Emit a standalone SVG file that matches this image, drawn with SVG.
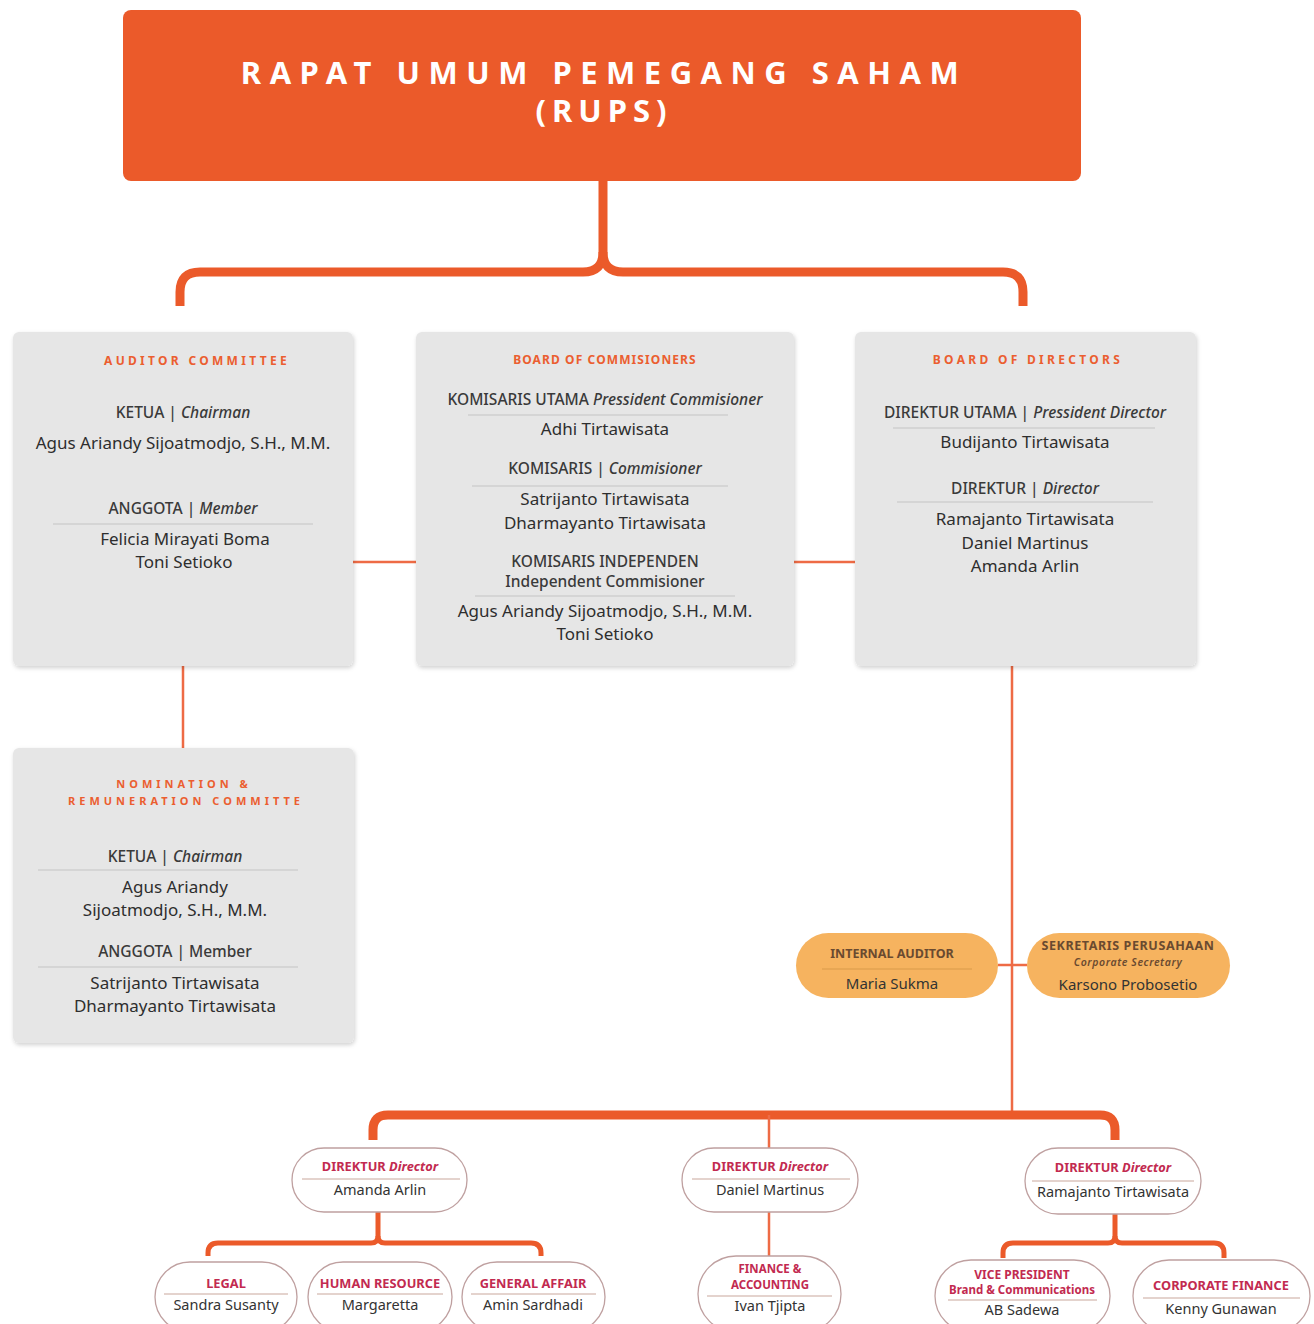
<svg xmlns="http://www.w3.org/2000/svg" width="1314" height="1324" viewBox="0 0 1314 1324">
<defs>
<filter id="sh" x="-5%" y="-5%" width="110%" height="110%">
<feDropShadow dx="1" dy="2" stdDeviation="2" flood-color="#000" flood-opacity="0.18"/>
</filter>
<style>
.t{font-family:"Noto Sans","Open Sans","Liberation Sans",sans-serif;text-anchor:middle}
.hd{font-size:12px;font-weight:700;fill:#EB5E30;letter-spacing:3.3px}
.hd2{font-size:12px;font-weight:700;fill:#EB5E30;letter-spacing:1.1px}
.ro{font-size:15.5px;font-weight:500;fill:#3a3a3a}
.nm{font-size:17px;fill:#2e2e2e}
.it{font-style:italic}
.box{fill:#E6E6E6;filter:url(#sh)}
.dv{stroke:#C4C4C4;stroke-width:1.2}
.pdv{stroke:#C9A79C;stroke-width:1}
.pill{fill:#fff;stroke:#BFA0A0;stroke-width:1.3}
.opill{fill:#F6B35F}
.pl{font-size:12.8px;font-weight:700;fill:#C22A50}
.pn{font-size:14.5px;fill:#333}
.ol{font-size:12.5px;font-weight:700;fill:#6A4A30}
.thick{fill:none;stroke:#EB5A2A;stroke-width:9;stroke-linecap:butt}
.mid{fill:none;stroke:#EB5A2A;stroke-width:5}
.thin{fill:none;stroke:#EE6B45;stroke-width:2.5}
</style>
</defs>
<rect width="1314" height="1324" fill="#fff"/>

<g id="connectors">
<path class="thick" d="M603,181 V252 Q603,272 583,272 H200 Q180,272 180,292 V306"/>
<path class="thick" d="M603,252 Q603,272 623,272 H1003 Q1023,272 1023,292 V306"/>
<line class="thin" x1="353" y1="562" x2="416" y2="562"/>
<line class="thin" x1="794" y1="562" x2="855" y2="562"/>
<line class="thin" x1="183" y1="666" x2="183" y2="748"/>
<line class="thin" x1="1012" y1="666" x2="1012" y2="1112"/>
<line class="thin" x1="998" y1="965" x2="1027" y2="965"/>
<path class="thick" d="M373,1140 V1130 Q373,1115 388,1115 H1100 Q1115,1115 1115,1130 V1140"/>
<line class="thin" x1="769" y1="1115" x2="769" y2="1148"/>
<line class="thin" x1="769" y1="1212" x2="769" y2="1256"/>
<path class="mid" d="M378,1212 V1236 Q378,1243 371,1243 H218 Q208,1243 208,1253 V1256"/>
<path class="mid" d="M378,1236 Q378,1243 385,1243 H531 Q541,1243 541,1253 V1256"/>
<path class="mid" d="M1115,1214 V1236 Q1115,1243 1108,1243 H1013 Q1003,1243 1003,1253 V1258"/>
<path class="mid" d="M1115,1236 Q1115,1243 1122,1243 H1214 Q1224,1243 1224,1253 V1258"/>
</g>

<g id="rups">
<rect x="123" y="10" width="958" height="171" rx="8" fill="#EB5A2A"/>
<text class="t" x="604" y="84" style="font-size:31px;font-weight:700;fill:#fff;letter-spacing:8.5px">RAPAT UMUM PEMEGANG SAHAM</text>
<text class="t" x="604" y="122" style="font-size:31px;font-weight:700;fill:#fff;letter-spacing:6px">(RUPS)</text>
</g>

<g id="auditor-committee">
<rect class="box" x="13" y="332" width="340" height="334" rx="6"/>
<text class="t hd" x="197" y="365">AUDITOR COMMITTEE</text>
<text class="t ro" x="183" y="418">KETUA | <tspan class="it">Chairman</tspan></text>
<text class="t nm" x="183" y="449">Agus Ariandy Sijoatmodjo, S.H., M.M.</text>
<text class="t ro" x="183" y="514">ANGGOTA | <tspan class="it">Member</tspan></text>
<line class="dv" x1="53" y1="524" x2="313" y2="524"/>
<text class="t nm" x="185" y="545">Felicia Mirayati Boma</text>
<text class="t nm" x="184" y="568">Toni Setioko</text>
</g>

<g id="board-of-commissioners">
<rect class="box" x="416" y="332" width="378" height="334" rx="6"/>
<text class="t hd2" x="605" y="364">BOARD OF COMMISIONERS</text>
<text class="t ro" x="605" y="405">KOMISARIS UTAMA  <tspan class="it">Pressident Commisioner</tspan></text>
<line class="dv" x1="468" y1="415" x2="728" y2="415"/>
<text class="t nm" x="605" y="435">Adhi Tirtawisata</text>
<text class="t ro" x="605" y="474">KOMISARIS | <tspan class="it">Commisioner</tspan></text>
<line class="dv" x1="472" y1="486" x2="728" y2="486"/>
<text class="t nm" x="605" y="505">Satrijanto Tirtawisata</text>
<text class="t nm" x="605" y="529">Dharmayanto Tirtawisata</text>
<text class="t ro" x="605" y="567">KOMISARIS INDEPENDEN</text>
<text class="t ro" x="605" y="587">Independent Commisioner</text>
<line class="dv" x1="475" y1="596" x2="735" y2="596"/>
<text class="t nm" x="605" y="617">Agus Ariandy Sijoatmodjo, S.H., M.M.</text>
<text class="t nm" x="605" y="640">Toni Setioko</text>
</g>

<g id="board-of-directors">
<rect class="box" x="855" y="332" width="341" height="334" rx="6"/>
<text class="t hd" x="1028" y="364">BOARD OF DIRECTORS</text>
<text class="t ro" x="1025" y="418">DIREKTUR UTAMA | <tspan class="it">Pressident Director</tspan></text>
<line class="dv" x1="893" y1="428" x2="1155" y2="428"/>
<text class="t nm" x="1025" y="448">Budijanto Tirtawisata</text>
<text class="t ro" x="1025" y="494">DIREKTUR | <tspan class="it">Director</tspan></text>
<line class="dv" x1="897" y1="502" x2="1153" y2="502"/>
<text class="t nm" x="1025" y="525">Ramajanto Tirtawisata</text>
<text class="t nm" x="1025" y="549">Daniel Martinus</text>
<text class="t nm" x="1025" y="572">Amanda Arlin</text>
</g>

<g id="nomination-committee">
<rect class="box" x="13" y="748" width="341" height="295" rx="6"/>
<text class="t hd" x="184" y="788" style="font-size:11px;letter-spacing:4px">NOMINATION &amp;</text>
<text class="t hd" x="186" y="805" style="font-size:11px;letter-spacing:4px">REMUNERATION COMMITTE</text>
<text class="t ro" x="175" y="862">KETUA | <tspan class="it">Chairman</tspan></text>
<line class="dv" x1="38" y1="870" x2="298" y2="870"/>
<text class="t nm" x="175" y="893">Agus Ariandy</text>
<text class="t nm" x="175" y="916">Sijoatmodjo, S.H., M.M.</text>
<text class="t ro" x="175" y="957">ANGGOTA | Member</text>
<line class="dv" x1="38" y1="967" x2="298" y2="967"/>
<text class="t nm" x="175" y="989">Satrijanto Tirtawisata</text>
<text class="t nm" x="175" y="1012">Dharmayanto Tirtawisata</text>
</g>

<g id="internal-auditor">
<rect class="opill" x="796" y="933" width="202" height="65" rx="32.5"/>
<text class="t ol" x="892" y="958">INTERNAL AUDITOR</text>
<line x1="822" y1="969" x2="972" y2="969" stroke="#D99A4A" stroke-width="1"/>
<text class="t pn" x="892" y="989" style="font-size:15px">Maria Sukma</text>
</g>

<g id="corporate-secretary">
<rect class="opill" x="1027" y="933" width="203" height="65" rx="32.5"/>
<text class="t ol" x="1128" y="950" style="font-size:12.5px;letter-spacing:0.6px">SEKRETARIS PERUSAHAAN</text>
<text class="t it" x="1128" y="966" style="font-size:10.5px;fill:#6A4A30;letter-spacing:0.6px;font-weight:600">Corporate Secretary</text>
<text class="t pn" x="1128" y="990" style="font-size:15px">Karsono Probosetio</text>
</g>

<g id="dir-amanda">
<rect class="pill" x="292" y="1148" width="175" height="64" rx="32"/>
<text class="t pl" x="380" y="1171">DIREKTUR <tspan class="it">Director</tspan></text>
<line class="pdv" x1="302" y1="1179" x2="460" y2="1179"/>
<text class="t pn" x="380" y="1195">Amanda Arlin</text>
</g>

<g id="dir-daniel">
<rect class="pill" x="682" y="1148" width="176" height="64" rx="32"/>
<text class="t pl" x="770" y="1171">DIREKTUR <tspan class="it">Director</tspan></text>
<line class="pdv" x1="692" y1="1179" x2="850" y2="1179"/>
<text class="t pn" x="770" y="1195">Daniel Martinus</text>
</g>

<g id="dir-ramajanto">
<rect class="pill" x="1025" y="1148" width="176" height="66" rx="33"/>
<text class="t pl" x="1113" y="1172">DIREKTUR <tspan class="it">Director</tspan></text>
<line class="pdv" x1="1032" y1="1181" x2="1194" y2="1181"/>
<text class="t pn" x="1113" y="1197">Ramajanto Tirtawisata</text>
</g>

<g id="legal">
<rect class="pill" x="155" y="1262" width="142" height="70" rx="35"/>
<text class="t pl" x="226" y="1288">LEGAL</text>
<line class="pdv" x1="164" y1="1294" x2="288" y2="1294"/>
<text class="t pn" x="226" y="1310">Sandra Susanty</text>
</g>

<g id="human-resource">
<rect class="pill" x="308" y="1262" width="144" height="70" rx="35"/>
<text class="t pl" x="380" y="1288">HUMAN RESOURCE</text>
<line class="pdv" x1="317" y1="1294" x2="443" y2="1294"/>
<text class="t pn" x="380" y="1310">Margaretta</text>
</g>

<g id="general-affair">
<rect class="pill" x="462" y="1262" width="143" height="70" rx="35"/>
<text class="t pl" x="533" y="1288">GENERAL AFFAIR</text>
<line class="pdv" x1="471" y1="1294" x2="596" y2="1294"/>
<text class="t pn" x="533" y="1310">Amin Sardhadi</text>
</g>

<g id="finance-accounting">
<rect class="pill" x="698" y="1256" width="143" height="76" rx="38"/>
<text class="t pl" x="770" y="1273" style="font-size:11.5px">FINANCE &amp;</text>
<text class="t pl" x="770" y="1289" style="font-size:11.5px">ACCOUNTING</text>
<line class="pdv" x1="707" y1="1296" x2="832" y2="1296"/>
<text class="t pn" x="770" y="1311">Ivan Tjipta</text>
</g>

<g id="vp-brand">
<rect class="pill" x="935" y="1260" width="175" height="72" rx="36"/>
<text class="t pl" x="1022" y="1279" style="font-size:12px">VICE PRESIDENT</text>
<text class="t pl" x="1022" y="1294" style="font-size:11.5px">Brand &amp; Communications</text>
<line class="pdv" x1="948" y1="1300" x2="1097" y2="1300"/>
<text class="t pn" x="1022" y="1315">AB Sadewa</text>
</g>

<g id="corporate-finance">
<rect class="pill" x="1133" y="1260" width="177" height="72" rx="36"/>
<text class="t pl" x="1221" y="1290">CORPORATE FINANCE</text>
<line class="pdv" x1="1143" y1="1298" x2="1300" y2="1298"/>
<text class="t pn" x="1221" y="1314">Kenny Gunawan</text>
</g>
</svg>
